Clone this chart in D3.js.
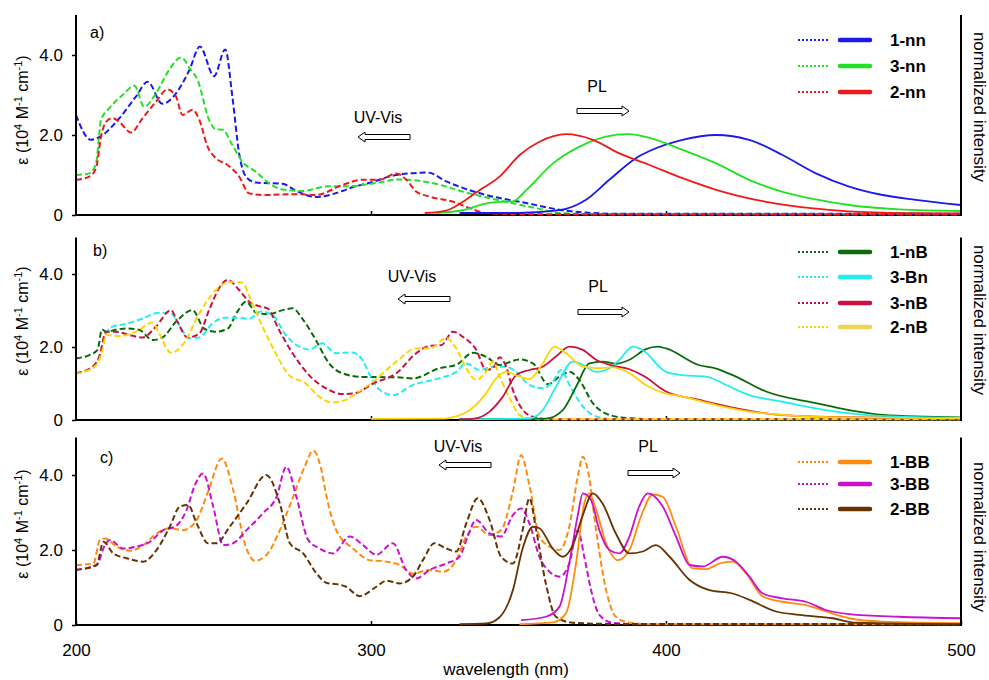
<!DOCTYPE html>
<html>
<head>
<meta charset="utf-8">
<script src="https://cdn.jsdelivr.net/npm/d3@7"></script>
<style>
  body { margin: 0; background: #fff; }
  text { font-family: "Liberation Sans", Arial, sans-serif; fill: #000; }
</style>
</head>
<body>
<svg id="chart" width="989" height="680"></svg>
<script>
// ---- data: [wavelength nm, value] ----
// panel a
const uv_1nn = [[200,2.5],[205,1.88],[208,1.95],[214.7,2.42],[220.3,2.96],[224.3,3.33],[229.3,2.78],[233.9,3.04],[238.4,3.62],[242,4.21],[246.8,3.47],[250.6,4.14],[253,2.96],[255.3,1.54],[257.6,0.96],[261,0.81],[270,0.78],[274.5,0.61],[281.3,0.45],[290.3,0.6],[294,0.7],[299.3,0.8],[308.6,1.0],[319.3,1.06],[325.5,0.84],[339.1,0.5],[352.6,0.3],[363.9,0.13],[372.9,0.06],[385,0.03],[500,0.03]];
const uv_3nn = [[200,1.0],[204.5,1.04],[206.8,1.29],[208.5,2.38],[211.3,2.67],[215.8,3.0],[219.8,3.23],[223.1,2.71],[227.1,3.04],[231.6,3.63],[235.6,3.94],[238.9,3.63],[241.2,3.38],[245.1,2.38],[247.4,2.14],[249.7,2.13],[253,1.75],[256.4,1.33],[261,1.08],[265.5,0.79],[270,0.64],[276.7,0.6],[285.8,0.72],[292.5,0.72],[301.6,0.8],[309.7,0.89],[319.9,0.81],[333.4,0.54],[345.8,0.33],[356,0.17],[364,0.05],[375,0.02],[500,0.02]];
const uv_2nn = [[200,0.88],[204.5,0.96],[206.8,1.17],[208.5,1.96],[210.2,2.33],[212.4,2.42],[215.2,2.29],[218.6,2.06],[222.6,2.42],[227.1,2.83],[231,3.14],[233.9,2.96],[236.1,2.5],[239.5,2.63],[241.8,2.38],[244.6,1.71],[247.4,1.42],[251.4,1.25],[255.3,0.96],[258.7,0.54],[263.2,0.5],[274.5,0.52],[281.3,0.5],[290.3,0.75],[297.1,0.88],[302.9,0.88],[308.6,1.04],[312,0.88],[315.4,0.58],[319.9,0.46],[327.9,0.33],[333.5,0.17],[339,0.05],[350,0.02],[500,0.02]];
const pl_1nn = [[330,0.05],[350,0.05],[363.9,0.12],[372.9,0.38],[380.8,0.88],[389.8,1.42],[394.4,1.6],[405.6,1.88],[417,2.0],[428.2,1.88],[439.5,1.5],[450.8,1.04],[462.1,0.71],[473.4,0.5],[484.7,0.38],[500,0.25]];
const pl_3nn = [[322,0.05],[331.2,0.12],[339.1,0.29],[343.6,0.33],[348.1,0.34],[352.6,0.62],[361.7,1.29],[370.7,1.71],[379.7,1.96],[387,2.02],[394.4,1.93],[405.6,1.63],[417,1.29],[428.2,0.88],[439.5,0.58],[450.8,0.39],[462.1,0.25],[479,0.14],[500,0.1]];
const pl_2nn = [[318.2,0.05],[325.5,0.11],[331.2,0.33],[336.8,0.62],[343.6,0.96],[350.4,1.5],[357.1,1.83],[366.2,2.02],[375.2,1.88],[384.2,1.54],[394.4,1.25],[405.6,0.92],[417,0.63],[433.9,0.33],[450.8,0.16],[473.4,0.06],[500,0.04]];

// panel b
const uv_1nB = [[200,1.69],[204.5,1.78],[207.3,1.92],[208.8,2.48],[210.2,2.42],[213.5,2.47],[216.9,2.51],[221.4,2.47],[226,2.19],[229.3,2.26],[233.9,2.69],[239.5,3.01],[243.5,2.5],[247.4,2.42],[251.4,2.5],[254.7,2.97],[257.6,3.24],[261.5,2.92],[265.5,2.9],[270,3.01],[273.4,3.06],[276.7,2.78],[281.3,2.19],[285.8,1.55],[290.3,1.28],[297.1,1.18],[308.6,1.17],[314.2,1.14],[323.2,1.42],[328.9,1.51],[334.5,1.84],[339,1.73],[343.6,1.51],[350.3,1.66],[354.9,1.55],[360,0.98],[363.9,1.19],[367.3,1.32],[370.6,1.1],[375.2,0.46],[380.8,0.14],[387.6,0.05],[400,0.02],[500,0.02]];
const uv_3Bn = [[200,1.28],[205.6,1.42],[207.9,1.74],[210.2,2.37],[212.4,2.56],[216.9,2.63],[222.6,2.78],[228.2,2.94],[232.2,2.92],[235,2.6],[238.4,2.24],[241.8,2.26],[246.3,2.65],[250.2,2.8],[254.2,2.8],[258.7,2.77],[262.6,2.97],[266.6,2.88],[271.1,2.33],[275.6,2.01],[279,1.93],[283.5,2.1],[288,1.83],[293.7,1.85],[297.1,1.64],[299.5,1.25],[302,0.9],[307.4,0.68],[314.2,0.96],[322.1,1.12],[328.9,1.32],[332.3,1.55],[336.8,1.37],[341.3,1.46],[345.8,1.46],[349.2,1.32],[353.7,0.96],[358.2,0.87],[361.6,1.05],[364.4,1.37],[367.3,0.96],[371.8,0.37],[376.3,0.1],[382,0.02],[500,0.02]];
const uv_3nB = [[200,1.28],[205.6,1.46],[207.9,1.74],[210.2,2.42],[213.5,2.42],[218,2.33],[222.6,2.26],[227.1,2.56],[232.2,3.01],[234.4,2.69],[237.8,2.26],[241.8,2.37],[245.1,3.01],[248.5,3.61],[251.4,3.84],[255.3,3.56],[258.7,3.24],[262.1,3.12],[264.9,3.06],[268.8,2.47],[273.4,1.83],[279,1.23],[285.8,0.82],[290.3,0.71],[294.8,0.74],[300.7,1.0],[308.6,1.28],[315.3,1.83],[319.9,2.03],[323.8,2.05],[327.8,2.42],[331.1,2.28],[335.7,1.92],[339,1.37],[341.3,1.42],[343.6,1.72],[345.8,1.46],[348.1,0.82],[351.5,0.27],[354.9,0.09],[360,0.02],[500,0.02]];
const uv_2nB = [[200,1.26],[206.8,1.5],[209,1.92],[210.2,2.33],[214.7,2.3],[220.3,2.42],[226,2.67],[228.2,2.37],[232.2,1.84],[236.1,2.05],[241.8,2.92],[247.4,3.56],[253,3.79],[256.4,3.76],[259.3,3.29],[263.2,2.56],[267.7,1.83],[272.2,1.23],[277.9,1.0],[282.4,0.64],[286.9,0.48],[291.4,0.55],[295.9,0.78],[300.7,1.05],[308.6,1.6],[315.3,1.96],[319.9,1.96],[325.5,2.24],[328.9,1.96],[332.3,1.42],[335.7,1.1],[339,1.32],[341.3,1.6],[343.6,1.19],[347,0.6],[350.3,0.14],[353.7,0.04],[360,0.02],[500,0.02]];
const pl_1nB = [[330,0.02],[359.4,0.04],[365,0.27],[369.5,0.91],[374,1.55],[378.6,1.6],[383.1,1.54],[387.6,1.65],[393.2,1.94],[397,2.01],[400,1.96],[411.3,1.5],[417,1.41],[422.6,1.23],[433.9,0.78],[450.8,0.46],[462.1,0.27],[473.4,0.14],[500,0.07]];
const pl_3Bn = [[330,0.02],[353.7,0.04],[358.2,0.27],[362.7,0.91],[368.4,1.6],[371.8,1.51],[376.3,1.32],[379.7,1.37],[384.2,1.65],[388.7,2.01],[393.2,1.85],[397.7,1.46],[400,1.32],[405.7,1.23],[413.6,1.19],[420.4,0.96],[428.3,0.68],[439.5,0.5],[450.8,0.32],[462.1,0.18],[479,0.09],[500,0.06]];
const pl_3nB = [[330,0.02],[335,0.04],[340.2,0.23],[344.7,0.64],[349.2,1.23],[353.7,1.37],[358.2,1.46],[362.7,1.74],[367.3,2.01],[371.8,1.92],[376.3,1.65],[381.9,1.49],[387.6,1.39],[393.2,1.17],[397.7,0.9],[400,0.78],[411.3,0.55],[422.6,0.34],[433.9,0.18],[450.8,0.09],[500,0.04]];
const pl_2nB = [[300,0.03],[325,0.04],[328.9,0.1],[333.4,0.27],[339,0.73],[342.4,1.14],[345.8,1.32],[350.3,1.19],[353.7,1.12],[358.2,1.55],[362.2,2.01],[366.1,1.83],[371.8,1.46],[376.3,1.42],[381.9,1.44],[387.6,1.28],[393.2,0.96],[397.7,0.78],[405.7,0.64],[417,0.41],[428.3,0.23],[439.5,0.14],[462,0.07],[500,0.05]];

// panel c
const uv_1BB = [[200,1.6],[205.9,1.64],[208.1,2.27],[209.8,2.31],[213.8,2.09],[218.3,1.98],[222.8,2.13],[227.3,2.44],[231.8,2.58],[236.3,2.53],[240.9,2.8],[244.8,3.56],[249.4,4.44],[253.3,3.6],[257.2,2.18],[260.6,1.71],[264.6,1.87],[269.1,2.53],[273.6,3.42],[277.5,4.22],[280.4,4.65],[283,4.2],[285,3.4],[288.2,2.53],[293.9,2.04],[299.5,1.73],[305.2,1.69],[309.7,1.6],[314.2,1.37],[319.8,1.47],[324.4,1.42],[328.9,1.73],[332.3,2.36],[335.6,2.62],[340.2,2.4],[344.1,2.53],[348.1,3.56],[350.9,4.53],[353.7,3.73],[357.1,2.36],[360.5,2.09],[363.9,2.0],[367.2,2.62],[370.1,3.96],[371.8,4.49],[373.5,4.13],[376.3,2.53],[379.7,0.93],[383,0.22],[387.6,0.06],[395,0.02],[500,0.02]];
const uv_3BB = [[200,1.47],[207,1.6],[209.8,2.13],[211.5,2.27],[216,2.04],[220.5,2.09],[225.1,2.22],[229.6,2.53],[233.5,2.62],[237.5,3.07],[240.3,3.73],[243.1,4.04],[246.5,3.16],[249.9,2.13],[253.3,2.18],[257.8,2.53],[263.4,2.98],[268,3.42],[271.3,4.22],[274.7,3.42],[278.7,2.27],[282.6,2.04],[287.1,1.91],[292.8,2.36],[297.3,2.13],[301.8,1.87],[307.4,2.18],[311.9,1.47],[315.3,1.24],[319.9,1.47],[325.5,1.64],[330,1.82],[332.8,2.36],[335.6,2.8],[340.2,2.44],[344.1,2.36],[348.1,2.93],[350.9,3.11],[353.7,2.71],[357.1,1.82],[360.5,1.42],[363.9,1.29],[367.2,1.64],[370.1,2.53],[372.3,1.82],[374.6,0.93],[377.4,0.27],[381.9,0.06],[390,0.02],[500,0.02]];
const uv_2BB = [[200,1.47],[207,1.6],[209.3,2.22],[212.6,1.91],[217.2,1.78],[222.8,1.69],[227.3,2.0],[231.8,2.62],[235.2,3.16],[238,3.2],[240.9,2.71],[244.8,2.18],[247.6,2.18],[252.1,2.62],[257.8,3.24],[264.5,4.0],[269.1,3.24],[272.5,2.18],[277,1.91],[281.5,1.38],[285,1.12],[288.2,1.09],[291.6,1.02],[296.1,0.77],[301.8,1.02],[305.2,1.18],[309.7,1.11],[314.2,1.29],[317.6,1.73],[321.5,2.18],[325.5,2.04],[328.9,1.96],[332.3,2.71],[336.2,3.38],[340.2,2.8],[344.1,1.82],[348.1,1.64],[351.4,2.53],[353.7,3.38],[356,2.53],[359.3,1.09],[362.7,0.22],[368.4,0.06],[380,0.03],[500,0.03]];
const pl_1BB = [[350.3,0.02],[361.6,0.07],[366.1,0.31],[369.5,1.64],[372.3,3.24],[374,3.51],[376.3,3.07],[379.7,2.18],[383.6,1.73],[387.6,2.0],[391.5,2.89],[395.5,3.48],[398.9,3.42],[403.4,2.62],[409.1,1.51],[413.6,1.49],[418.1,1.64],[422.6,1.69],[427.1,1.38],[432.8,0.76],[439.5,0.62],[447.4,0.53],[454.2,0.36],[462.1,0.18],[473.4,0.09],[500,0.05]];
const pl_3BB = [[350.9,0.13],[359.3,0.22],[363.9,0.49],[367.2,1.64],[370.1,2.93],[371.8,3.51],[374.6,3.33],[377.4,2.53],[380.8,2.0],[384.2,1.91],[387.6,2.36],[390.9,3.16],[393.8,3.51],[398.9,3.16],[403.4,2.36],[408,1.6],[412.5,1.56],[419.2,1.82],[423.7,1.69],[428.3,1.29],[432.8,0.84],[439.5,0.71],[447.4,0.62],[454.2,0.4],[462.1,0.29],[479,0.22],[500,0.18]];
const pl_2BB = [[330,0.02],[339,0.04],[343.5,0.2],[348.1,0.93],[351.4,2.04],[354.9,2.62],[357.1,2.58],[361.6,2.04],[365,1.82],[368.4,2.13],[371.8,2.93],[375.2,3.51],[378.5,3.24],[383,2.44],[387.6,1.91],[392.1,1.96],[396.6,2.13],[401.2,1.82],[408,1.2],[414.7,0.93],[422.6,0.84],[428.3,0.67],[437.3,0.36],[445.2,0.27],[456.5,0.18],[464.4,0.06],[500,0.02]];

const xTicks = [200, 300, 400, 500];
const yTicks = [0, 2, 4];

// ---- layout ----
const svg = d3.select("#chart");
const x = d3.scaleLinear().domain([200, 500]).range([76, 961]);

const panels = [
  { tag: "a)", tagX: 90, top: 15, bottom: 215, tagY: 38, labelMid: 110, rightMid: 107,
    legendY: [40, 66, 92],
    uv: { tx: 378, ty: 123, ax0: 358, ax1: 410, ay: 137 },
    pl: { tx: 597, ty: 92, ax0: 577, ax1: 629, ay: 111 },
    series: [
      { name: "1-nn", uv: uv_1nn, pl: pl_1nn, color: "#1a1aee" },
      { name: "3-nn", uv: uv_3nn, pl: pl_3nn, color: "#22e022" },
      { name: "2-nn", uv: uv_2nn, pl: pl_2nn, color: "#f01818" }
    ] },
  { tag: "b)", tagX: 93, top: 237.5, bottom: 420, tagY: 256, labelMid: 321, rightMid: 320,
    legendY: [252, 277, 303, 327],
    uv: { tx: 412, ty: 282, ax0: 398, ax1: 450, ay: 299 },
    pl: { tx: 598, ty: 292, ax0: 578, ax1: 629, ay: 312 },
    series: [
      { name: "1-nB", uv: uv_1nB, pl: pl_1nB, color: "#0b6b0b" },
      { name: "3-Bn", uv: uv_3Bn, pl: pl_3Bn, color: "#22eeee" },
      { name: "3-nB", uv: uv_3nB, pl: pl_3nB, color: "#cc1040" },
      { name: "2-nB", uv: uv_2nB, pl: pl_2nB, color: "#ffd400", legendColor: "#f0d458" }
    ] },
  { tag: "c)", tagX: 100, top: 437.5, bottom: 625, tagY: 463, labelMid: 524, rightMid: 537,
    legendY: [462, 484, 509],
    uv: { tx: 458, ty: 452, ax0: 439, ax1: 491, ay: 465 },
    pl: { tx: 648, ty: 452, ax0: 628, ax1: 680, ay: 473 },
    series: [
      { name: "1-BB", uv: uv_1BB, pl: pl_1BB, color: "#ff8a10" },
      { name: "3-BB", uv: uv_3BB, pl: pl_3BB, color: "#cc10cc" },
      { name: "2-BB", uv: uv_2BB, pl: pl_2BB, color: "#663300" }
    ] }
];

// hollow block arrow, dir -1 = points left, +1 = points right
function arrowPath(x0, x1, yc, dir) {
  const tip = dir < 0 ? x0 : x1, tail = dir < 0 ? x1 : x0;
  const h = 7 * (dir < 0 ? 1 : -1);
  return `M${tip},${yc} L${tip + h},${yc - 5} L${tip + h},${yc - 2.5} L${tail},${yc - 2.5}` +
         ` L${tail},${yc + 2.5} L${tip + h},${yc + 2.5} L${tip + h},${yc + 5} Z`;
}

panels.forEach((p, i) => {
  const y = d3.scaleLinear().domain([0, 5]).range([p.bottom, p.top]);
  const g = svg.append("g");

  const line = d3.line()
    .x(d => x(d[0]))
    .y(d => y(d[1]))
    .curve(d3.curveMonotoneX);

  // y axis
  g.append("g")
    .attr("transform", "translate(76,0)")
    .call(d3.axisLeft(y).tickValues(yTicks).tickSize(4).tickPadding(9)
      .tickFormat(d => d === 0 ? "0" : d.toFixed(1)))
    .call(a => a.select(".domain").remove())
    .call(a => a.selectAll("line").attr("stroke", "#000").attr("stroke-width", 1.5))
    .call(a => a.selectAll("text").attr("font-size", 17).attr("fill", "#000")
      .style("font-family", '"Liberation Sans", Arial, sans-serif'));

  // x axis (ticks pointing up, labels on bottom panel only)
  const last = i === panels.length - 1;
  g.append("g")
    .attr("transform", `translate(0,${p.bottom})`)
    .call(d3.axisBottom(x).tickValues(last ? xTicks : [300, 400]).tickSize(-4).tickPadding(19)
      .tickFormat(last ? d3.format("d") : () => ""))
    .call(a => a.select(".domain").remove())
    .call(a => a.selectAll("line").attr("stroke", "#000").attr("stroke-width", 1.5))
    .call(a => a.selectAll("text").attr("font-size", 17).attr("fill", "#000")
      .style("font-family", '"Liberation Sans", Arial, sans-serif'));

  // curves: dashed absorption, solid emission
  p.series.forEach(s => {
    g.append("path")
      .datum(s.uv)
      .attr("d", line)
      .attr("fill", "none")
      .attr("stroke", s.color)
      .attr("stroke-width", 2)
      .attr("stroke-dasharray", "6,3");
  });
  p.series.forEach(s => {
    g.append("path")
      .datum(s.pl)
      .attr("d", line)
      .attr("fill", "none")
      .attr("stroke", s.color)
      .attr("stroke-width", 1.8);
  });

  // frame lines
  g.append("line").attr("x1", 76).attr("x2", 961).attr("y1", p.bottom).attr("y2", p.bottom)
    .attr("stroke", "#000").attr("stroke-width", 2).lower();
  g.append("line").attr("x1", 76).attr("x2", 76).attr("y1", p.top).attr("y2", p.bottom + 1)
    .attr("stroke", "#000").attr("stroke-width", 2);
  g.append("line").attr("x1", 961).attr("x2", 961).attr("y1", p.top).attr("y2", p.bottom + 1)
    .attr("stroke", "#000").attr("stroke-width", 2);

  // panel tag
  g.append("text").attr("x", p.tagX).attr("y", p.tagY)
    .attr("font-size", 16).text(p.tag);

  // left axis label
  const yl = g.append("text")
    .attr("transform", `translate(28,${p.labelMid}) rotate(-90)`)
    .attr("text-anchor", "middle")
    .attr("font-size", 16);
  yl.append("tspan").text("ε (10");
  yl.append("tspan").attr("font-size", 11).attr("dy", -6).text("4");
  yl.append("tspan").attr("dy", 6).text(" M");
  yl.append("tspan").attr("font-size", 11).attr("dy", -6).text("-1");
  yl.append("tspan").attr("dy", 6).text(" cm");
  yl.append("tspan").attr("font-size", 11).attr("dy", -6).text("-1");
  yl.append("tspan").attr("dy", 6).text(")");

  // right axis label
  g.append("text")
    .attr("transform", `translate(974,${p.rightMid}) rotate(90)`)
    .attr("text-anchor", "middle")
    .attr("font-size", 17)
    .text("normalized intensity");

  // UV-Vis / PL annotations
  g.append("text").attr("x", p.uv.tx).attr("y", p.uv.ty).attr("text-anchor", "middle")
    .attr("font-size", 16).text("UV-Vis");
  g.append("path").attr("d", arrowPath(p.uv.ax0, p.uv.ax1, p.uv.ay, -1))
    .attr("fill", "#fff").attr("stroke", "#000").attr("stroke-width", 1);
  g.append("text").attr("x", p.pl.tx).attr("y", p.pl.ty).attr("text-anchor", "middle")
    .attr("font-size", 16).text("PL");
  g.append("path").attr("d", arrowPath(p.pl.ax0, p.pl.ax1, p.pl.ay, 1))
    .attr("fill", "#fff").attr("stroke", "#000").attr("stroke-width", 1);

  // legend
  p.series.forEach((s, k) => {
    const ly = p.legendY[k];
    g.append("line").attr("x1", 798).attr("x2", 830).attr("y1", ly).attr("y2", ly)
      .attr("stroke", s.color).attr("stroke-width", 2).attr("stroke-dasharray", "2,2");
    g.append("line").attr("x1", 840).attr("x2", 870).attr("y1", ly).attr("y2", ly)
      .attr("stroke", s.legendColor || s.color).attr("stroke-width", 4.5)
      .attr("stroke-linecap", "round");
    g.append("text").attr("x", 890).attr("y", ly + 6)
      .attr("font-size", 17).attr("font-weight", "bold").text(s.name);
  });
});

// x axis title
svg.append("text")
  .attr("x", 506).attr("y", 675)
  .attr("text-anchor", "middle")
  .attr("font-size", 17)
  .text("wavelength (nm)");
</script>
</body>
</html>
